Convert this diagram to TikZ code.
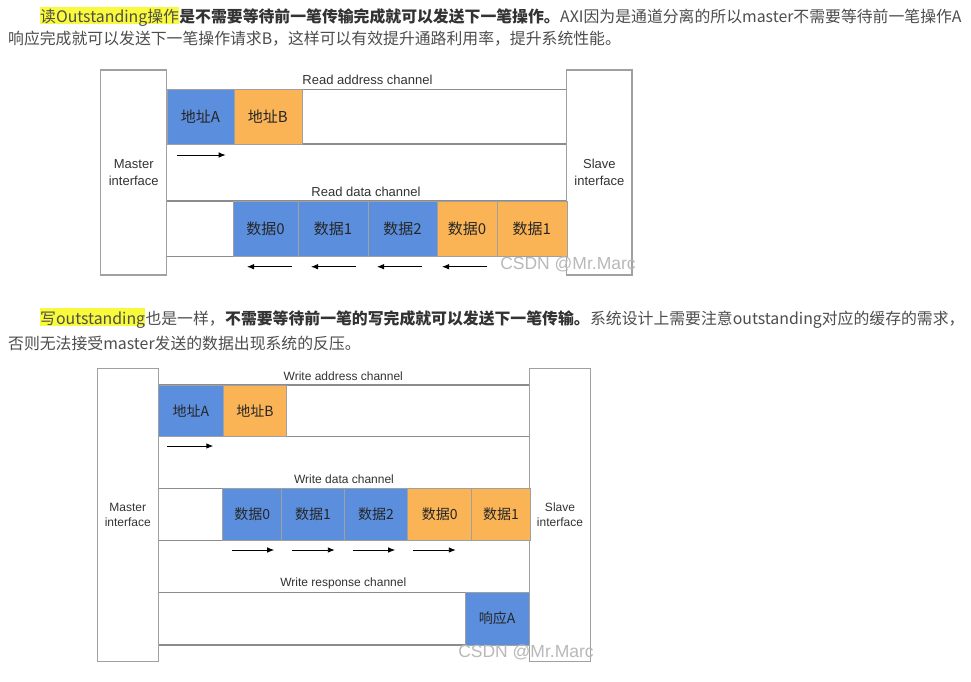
\documentclass[tikz,border=0pt]{standalone}
\usepackage{fontspec}
\setmainfont{Noto Sans CJK SC}
\newfontfamily\arialfont{Liberation Sans}
\usetikzlibrary{arrows.meta,positioning}
\definecolor{bodytext}{HTML}{4D4D4D}
\definecolor{strongtext}{HTML}{333333}
\definecolor{hlyellow}{RGB}{250,250,60}
\definecolor{slotblue}{RGB}{91,143,222}
\definecolor{slotorange}{RGB}{250,180,85}
\definecolor{wireline}{HTML}{8C8C8C}
\definecolor{boxline}{HTML}{A0A0A0}

\begin{document}
\begin{tikzpicture}[x=1pt, y=-1pt,
  para/.style = {anchor=base west, inner sep=0pt, text=bodytext, font=\fontsize{15.85}{16}\selectfont},
  strong/.style = {text=strongtext, font=\fontsize{15.85}{16}\selectfont\bfseries},
  hl/.style = {fill=hlyellow, text height=16pt, text depth=1.6pt},
  iface/.style = {draw=boxline, line width=1.2pt, align=center, inner sep=0pt, text=black!80},
  slot/.style = {draw=boxline, line width=0.6pt, inner sep=0pt, text=black!85},
  chan/.style = {inner sep=0pt, text=black!80},
  wire/.style = {draw=wireline, line width=1.3pt},
  flow/.style = {line width=0.9pt, -{Latex[length=7pt, width=5.5pt]}},
  watermark/.style = {anchor=base, inner sep=0pt, text=gray!55, font=\arialfont\fontsize{17.5}{17.5}\selectfont}]
\useasboundingbox[fill=white] (0,0) rectangle (971,681);

% first paragraph
\node[para, hl] (readhl) at (40,22.7) {读Outstanding操作};
\node[para, strong] (readbold) at (readhl.base east) {是不需要等待前一笔传输完成就可以发送下一笔操作。};
\node[para] (readrest) at (readbold.base east) {AXI因为是通道分离的所以master不需要等待前一笔操作A};
\node[para] (readnext) at (8,44.5) {响应完成就可以发送下一笔操作请求B，这样可以有效提升通路利用率，提升系统性能。};

% read diagram
\begin{scope}[every node/.append style={font=\arialfont\fontsize{13}{17}\selectfont}]
\node[iface, minimum width=66pt, minimum height=205pt] (rmaster) at (133.75,172.5) {Master\\interface};
\node[iface, minimum width=65.2pt, minimum height=205pt] (rslave) at (599.4,172.5) {Slave\\interface};
\node[chan] (rachan) at (367.5,80) {Read address channel};
\node[chan] (rdchan) at (366,191.5) {Read data channel};
\end{scope}
\foreach \y in {89.3, 144, 201, 256.7}
{
	\draw[wire] (rmaster.east |- 0,\y) -- (rslave.west |- 0,\y);
}
\foreach \l/\r/\t/\c/\n in {166.8/234/地址A/slotblue/ra0, 234/301.8/地址B/slotorange/ra1}
{
	\node[slot, fill=\c, minimum width={(\r-\l)*1pt}, minimum height=54.7pt,
	      font=\fontsize{15}{15}\selectfont] (\n) at ({(\l+\r)/2},116.65) {\t};
}
\foreach \l/\r/\t/\c/\n in {233/298/数据0/slotblue/rd0, 298/367.9/数据1/slotblue/rd1,
	367.9/437/数据2/slotblue/rd2, 437/497/数据0/slotorange/rd3, 497/566.8/数据1/slotorange/rd4}
{
	\node[slot, fill=\c, minimum width={(\r-\l)*1pt}, minimum height=55.7pt,
	      font=\fontsize{15}{15}\selectfont] (\n) at ({(\l+\r)/2},228.85) {\t};
}
\draw[flow] (176.8,155) -- (225.7,155);
\foreach \x in {247, 311, 377, 442}
{
	\draw[flow] ({\x+45},266.7) -- (\x,266.7);
}
\node[watermark] (rmark) at (568,269.5) {CSDN @Mr.Marc};

% second paragraph
\node[para, hl] (writehl) at (40,324.3) {写outstanding};
\node[para] (writesame) at (writehl.base east) {也是一样，};
\node[para, strong] (writebold) at (writesame.base east) {不需要等待前一笔的写完成就可以发送下一笔传输。};
\node[para] (writerest) at (writebold.base east) {系统设计上需要注意outstanding对应的缓存的需求，};
\node[para] (writenext) at (8,349.3) {否则无法接受master发送的数据出现系统的反压。};

% write diagram
\begin{scope}[every node/.append style={font=\arialfont\fontsize{12}{15}\selectfont}]
\node[iface, minimum width=61pt, minimum height=293.4pt] (wmaster) at (127.8,515) {Master\\interface};
\node[iface, minimum width=61.4pt, minimum height=293.4pt] (wslave) at (560,515) {Slave\\interface};
\node[chan] (wachan) at (343.3,376) {Write address channel};
\node[chan] (wdchan) at (344,479.3) {Write data channel};
\node[chan] (wbchan) at (343.3,583.3) {Write response channel};
\end{scope}
\foreach \y in {385, 436.7, 488.3, 540.7, 592.3, 645}
{
	\draw[wire] (wmaster.east |- 0,\y) -- (wslave.west |- 0,\y);
}
\foreach \l/\r/\t/\c/\n in {158.3/223.3/地址A/slotblue/wa0, 223.3/286.7/地址B/slotorange/wa1}
{
	\node[slot, fill=\c, minimum width={(\r-\l)*1pt}, minimum height=51.7pt,
	      font=\fontsize{14}{14}\selectfont] (\n) at ({(\l+\r)/2},410.85) {\t};
}
\foreach \l/\r/\t/\c/\n in {222.7/281.7/数据0/slotblue/wd0, 281.7/344.3/数据1/slotblue/wd1,
	344.3/407.7/数据2/slotblue/wd2, 407.7/471.7/数据0/slotorange/wd3, 471.7/530.5/数据1/slotorange/wd4}
{
	\node[slot, fill=\c, minimum width={(\r-\l)*1pt}, minimum height=52.4pt,
	      font=\fontsize{14}{14}\selectfont] (\n) at ({(\l+\r)/2},514.5) {\t};
}
\node[slot, fill=slotblue, minimum width=64.3pt, minimum height=52.7pt,
      font=\fontsize{14}{14}\selectfont] (wresp) at (497.15,618.65) {响应A};
\draw[flow] (167.3,446) -- (213.3,446);
\foreach \x in {231.7, 292.3, 352.7, 413.3}
{
	\draw[flow] (\x,550) -- ({\x+42.5},550);
}
\node[watermark] (wmark) at (526,657.5) {CSDN @Mr.Marc};
\end{tikzpicture}
\end{document}
